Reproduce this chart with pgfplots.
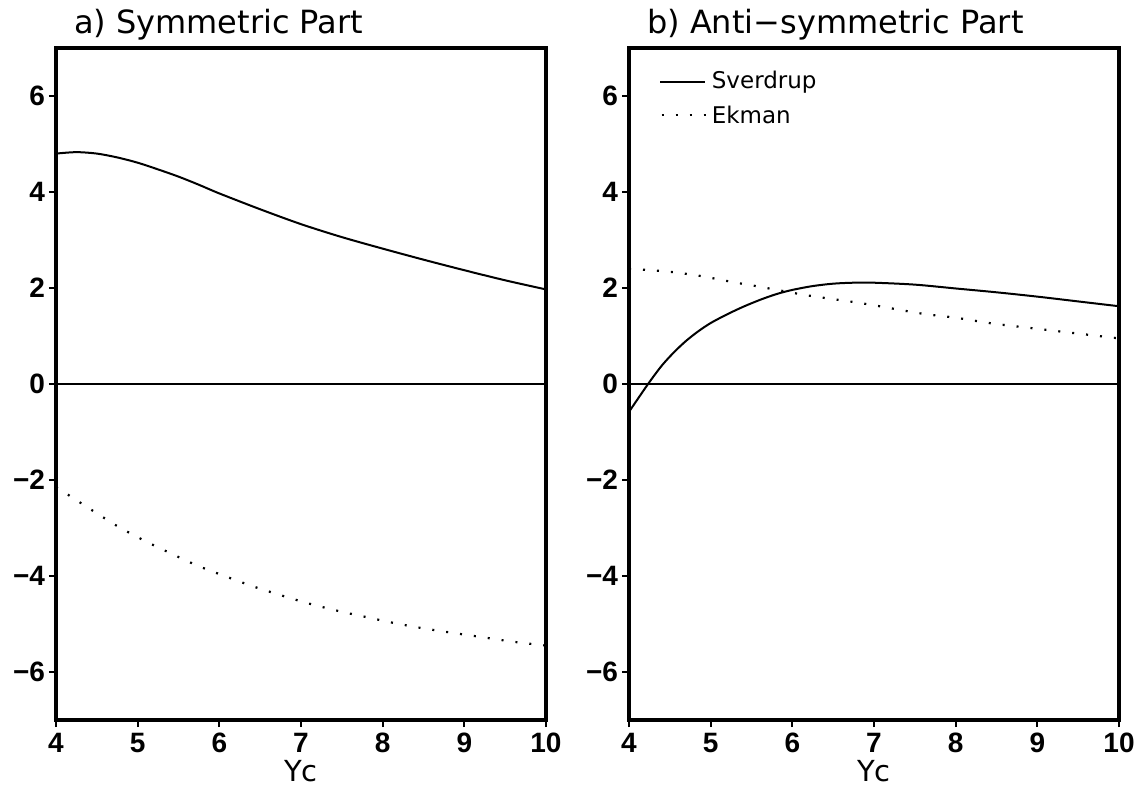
\documentclass[border=0pt]{standalone}
\usepackage{pgfplots}
\pgfplotsset{compat=1.18}
\usepackage{fontspec}
\setmainfont{DejaVu Sans}
\newfontfamily\tickfont{Liberation Sans}

\pgfplotsset{panel/.style={
  scale only axis, width=245pt, height=336pt,
  xmin=4, xmax=10, ymin=-7, ymax=7,
  xtick={4,5,6,7,8,9,10}, ytick={-6,-4,-2,0,2,4,6},
  yticklabels={−6,−4,−2,0,2,4,6},
  tick pos=left, tick align=outside,
  axis line style={line width=2pt},
  major tick length=3.5pt,
  tick style={line width=1pt, black},
  ticklabel style={font=\tickfont\bfseries\fontsize{14}{14}\selectfont},
  yticklabel style={xshift=1.5pt},
  xticklabel style={yshift=0.5pt},
  /pgf/number format/assume math mode=true,
  xlabel={Yc},
  xlabel style={font=\fontsize{14.5}{14.5}\selectfont, yshift=3pt},
  title style={at={(0,1)}, anchor=base west, xshift=5.5pt, yshift=1pt,
    font=\fontsize{16}{16}\selectfont},
}}
\tikzset{ekman/.style={line width=1.1pt, dash pattern=on 1pt off 6pt}}

\begin{document}
\begin{tikzpicture}
\useasboundingbox (-28pt,-33.5pt) rectangle (541.5pt,360pt);

\begin{axis}[panel, title={a) Symmetric Part}]
\addplot[line width=0.75pt] coordinates {(4,0) (10,0)};
% Sverdrup
\addplot[line width=1pt, smooth] coordinates {
  (4.00,4.80) (4.25,4.83) (4.50,4.80) (4.75,4.72) (5.00,4.61) (5.25,4.47)
  (5.50,4.32) (5.75,4.15) (6.00,3.97) (6.50,3.64) (7.00,3.33) (7.50,3.06)
  (8.00,2.82) (8.50,2.59) (9.00,2.37) (9.50,2.16) (10.00,1.97)
};
% Ekman
\addplot[ekman, smooth] coordinates {
  (4.00,-2.15) (4.15,-2.31) (4.46,-2.65) (4.76,-2.97) (5.09,-3.27) (5.42,-3.54)
  (5.74,-3.79) (6.08,-4.01) (6.42,-4.22) (6.77,-4.41) (7.11,-4.58) (7.46,-4.73)
  (7.81,-4.86) (8.17,-4.99) (8.53,-5.10) (8.88,-5.19) (9.24,-5.28) (9.60,-5.37)
  (10.00,-5.45)
};
\end{axis}

\begin{axis}[panel, at={(286.5pt,0pt)}, title={b) Anti−symmetric Part}]
\addplot[line width=0.75pt] coordinates {(4,0) (10,0)};
% Sverdrup
\addplot[line width=1pt, smooth] coordinates {
  (4.00,-0.58) (4.12,-0.28) (4.25,0.04) (4.40,0.38) (4.55,0.66) (4.70,0.90)
  (4.85,1.10) (5.00,1.27) (5.20,1.45) (5.40,1.61) (5.60,1.75) (5.80,1.87)
  (6.00,1.96) (6.25,2.04) (6.50,2.09) (6.75,2.11) (7.00,2.11) (7.50,2.07)
  (8.00,1.99) (8.50,1.91) (9.00,1.82) (9.50,1.72) (10.00,1.62)
};
% Ekman
\addplot[ekman, smooth] coordinates {
  (4.00,2.39) (4.18,2.38) (4.54,2.33) (4.91,2.24) (5.28,2.12) (5.62,2.02)
  (6.17,1.85) (6.70,1.72) (7.00,1.64) (7.57,1.47) (8.00,1.38) (8.45,1.26)
  (9.00,1.15) (9.35,1.08) (10.00,0.95)
};
\draw[line width=1pt] (axis cs:4.38,6.29) -- (axis cs:4.93,6.29);
\node[anchor=west, inner sep=0pt, font=\fontsize{11.5}{11.5}\selectfont] at (axis cs:5.01,6.29) {Sverdrup};
\draw[ekman] (axis cs:4.40,5.60) -- (axis cs:4.95,5.60);
\node[anchor=west, inner sep=0pt, font=\fontsize{11.5}{11.5}\selectfont] at (axis cs:5.01,5.60) {Ekman};
\end{axis}
\end{tikzpicture}
\end{document}
